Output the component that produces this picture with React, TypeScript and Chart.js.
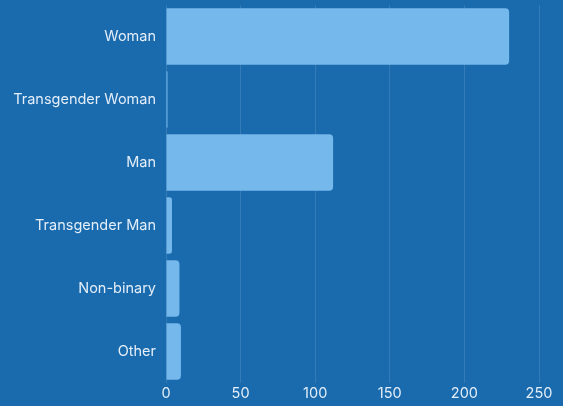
import React, { useEffect, useRef } from "react";
import { Chart, registerables } from "chart.js";

Chart.register(...registerables);

const categories = ["Woman", "Transgender Woman", "Man", "Transgender Man", "Non-binary", "Other"];
const counts = [230, 1, 112, 4, 9, 10];
const xTicks = [0, 50, 100, 150, 200, 250];

const BG = "#1a6aae";
const BAR = "#75b8ec";
const TEXT = "#e3eef8";

export default function App() {
  const ref = useRef<HTMLCanvasElement | null>(null);
  useEffect(() => {
    document.body.style.margin = "0";
    document.body.style.background = BG;
    const chart = new Chart(ref.current!, {
      type: "bar",
      data: {
        labels: categories,
        datasets: [
          {
            data: counts,
            backgroundColor: BAR,
            borderRadius: 4,
            borderSkipped: "start",
            barPercentage: 0.9,
            categoryPercentage: 1,
          },
        ],
      },
      options: {
        indexAxis: "y",
        animation: false,
        responsive: false,
        maintainAspectRatio: false,
        layout: { padding: { top: 5, right: 24, left: 0, bottom: 0 } },
        plugins: { legend: { display: false }, tooltip: { enabled: false } },
        scales: {
          x: {
            min: 0,
            max: 250,
            afterBuildTicks: (axis: any) => {
              axis.ticks = xTicks.map((v) => ({ value: v }));
            },
            afterFit: (axis: any) => {
              axis.height = 23;
              axis.paddingLeft = 0;
              axis.paddingRight = 0;
            },
            grid: { color: "rgba(255,255,255,0.12)", drawTicks: false },
            border: { display: false },
            ticks: { color: TEXT, font: { family: "Inter", size: 14.5 }, padding: 2 },
          },
          y: {
            afterFit: (axis: any) => {
              axis.width = 166;
              axis.paddingTop = 0;
              axis.paddingBottom = 0;
            },
            grid: { display: false, drawTicks: false },
            border: { display: false },
            ticks: { color: TEXT, font: { family: "Inter", size: 14.5 }, padding: 10 },
          },
        },
      },
    });
    return () => chart.destroy();
  }, []);
  return (
    <div style={{ width: 563, height: 406, background: BG }}>
      <canvas ref={ref} width={563} height={406} style={{ display: "block" }} />
    </div>
  );
}
